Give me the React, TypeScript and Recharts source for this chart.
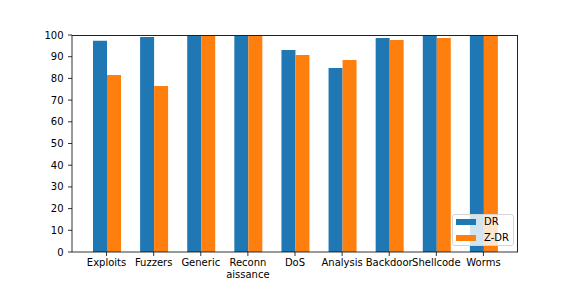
import React from 'react';
import { BarChart, Bar, XAxis, YAxis } from 'recharts';

const categories = ['Exploits', 'Fuzzers', 'Generic', 'Reconn\naissance', 'DoS', 'Analysis', 'Backdoor', 'Shellcode', 'Worms'];
const drValues = [97.4, 99.1, 100, 100, 93.1, 84.8, 98.6, 100, 100];
const zdrValues = [81.6, 76.5, 100, 100, 90.8, 88.5, 97.7, 98.6, 100];
const yTicks = [0, 10, 20, 30, 40, 50, 60, 70, 80, 90, 100];

const FONT = '"DejaVu Sans", sans-serif';
const BLUE = '#1f77b4';
const ORANGE = '#ff7f0e';

const data = categories.map((name, i) => ({ name, DR: drValues[i], ZDR: zdrValues[i] }));

// multi-line category labels, like matplotlib's "\n"
function CategoryTick(props: any) {
  const { x, y, payload } = props;
  const lines = String(payload.value).split('\n');
  return (
    <text x={x} y={y} textAnchor="middle" fontSize={10} fill="#000" fontFamily={FONT}>
      {lines.map((line, i) => (
        <tspan key={i} x={x} dy={i === 0 ? '0.71em' : '1.17em'}>
          {line}
        </tspan>
      ))}
    </text>
  );
}

function LegendBox() {
  const items = [
    { label: 'DR', color: BLUE },
    { label: 'Z-DR', color: ORANGE },
  ];
  return (
    <div
      style={{
        position: 'absolute',
        left: 452,
        top: 214,
        width: 60,
        height: 30,
        background: 'rgba(255,255,255,0.8)',
        border: '1px solid #d5d5d5',
        borderRadius: 3,
        fontFamily: FONT,
        fontSize: 10,
        color: '#000',
      }}
    >
      {items.map((it, i) => (
        <div key={it.label} style={{ position: 'absolute', left: 3, top: 4 + i * 15.5, display: 'flex', alignItems: 'center', height: 6 }}>
          <div style={{ width: 20, height: 6, background: it.color }} />
          <span style={{ marginLeft: 8, lineHeight: '6px' }}>{it.label}</span>
        </div>
      ))}
    </div>
  );
}

export default function App() {
  return (
    <div style={{ position: 'absolute', left: 0, top: 0, width: 576, height: 288, background: '#fff' }}>
      <BarChart
        width={576}
        height={288}
        data={data}
        margin={{ top: 35, right: 58, left: 32, bottom: 6 }}
        barGap={0}
        barSize={14}
      >
        <XAxis
          dataKey="name"
          interval={0}
          padding={{ left: 11, right: 11 }}
          height={30}
          stroke="#000"
          strokeWidth={0.8}
          tickSize={4}
          tickMargin={3}
          tick={<CategoryTick />}
          tickLine={{ stroke: '#000', strokeWidth: 0.8 }}
        />
        <YAxis
          domain={[0, 100]}
          ticks={yTicks}
          width={40}
          stroke="#000"
          strokeWidth={0.8}
          tickSize={4}
          tickMargin={4.5}
          tick={{ fontSize: 10, fill: '#000', fontFamily: FONT }}
          tickLine={{ stroke: '#000', strokeWidth: 0.8 }}
        />
        <Bar dataKey="DR" fill={BLUE} isAnimationActive={false} />
        <Bar dataKey="ZDR" fill={ORANGE} isAnimationActive={false} />
      </BarChart>
      {/* top and right spines of the axes box */}
      <div
        style={{
          position: 'absolute',
          left: 72,
          top: 35,
          width: 446,
          height: 217,
          borderTop: '1px solid #222',
          borderRight: '1px solid #222',
          boxSizing: 'border-box',
          pointerEvents: 'none',
        }}
      />
      <LegendBox />
    </div>
  );
}
